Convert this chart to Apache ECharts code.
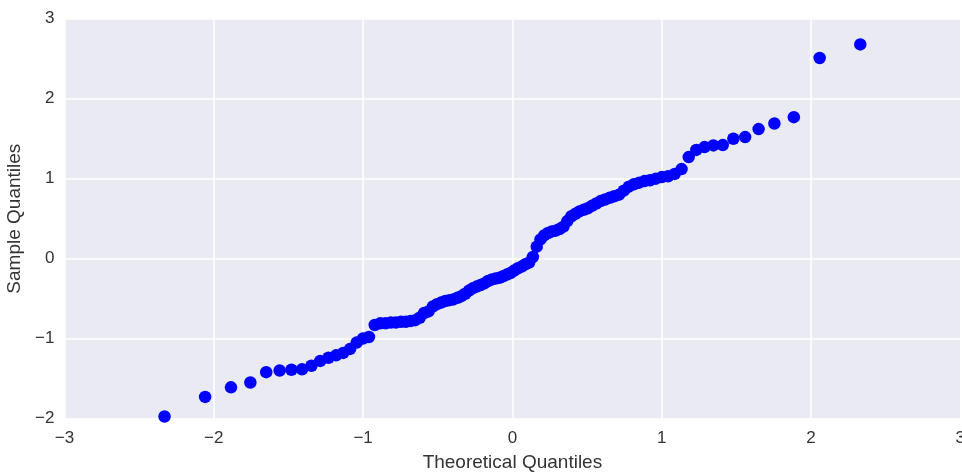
<!DOCTYPE html>
<html>
<head>
<meta charset="utf-8">
<script src="https://cdn.jsdelivr.net/npm/echarts@6/dist/echarts.min.js"></script>
<style>html,body{margin:0;padding:0;background:#fff;}#c{width:962px;height:473px;}</style>
</head>
<body>
<div id="c"></div>
<script>
// Theoretical quantiles (x)
const theoretical = [
 -2.330,-2.058,-1.885,-1.755,-1.649,-1.559,-1.480,-1.409,-1.346,-1.287,
 -1.232,-1.181,-1.133,-1.087,-1.043,-1.001,-0.961,-0.922,-0.885,-0.849,
 -0.814,-0.780,-0.746,-0.714,-0.682,-0.651,-0.621,-0.591,-0.562,-0.533,
 -0.505,-0.477,-0.449,-0.422,-0.395,-0.368,-0.342,-0.316,-0.290,-0.264,
 -0.239,-0.213,-0.188,-0.163,-0.137,-0.112,-0.087,-0.062,-0.037,-0.012,
 0.012,0.037,0.062,0.087,0.112,0.137,0.163,0.188,0.213,0.239,
 0.264,0.290,0.316,0.342,0.368,0.395,0.422,0.449,0.477,0.505,
 0.533,0.562,0.591,0.621,0.651,0.682,0.714,0.746,0.780,0.814,
 0.849,0.885,0.922,0.961,1.001,1.043,1.087,1.133,1.181,1.232,
 1.287,1.346,1.409,1.480,1.559,1.649,1.755,1.885,2.058,2.330
];
// Sample quantiles (y)
const sample = [
 -1.975,-1.73,-1.61,-1.55,-1.42,-1.40,-1.39,-1.385,-1.34,-1.28,
 -1.24,-1.21,-1.18,-1.13,-1.05,-1.00,-0.98,-0.83,-0.81,-0.81,
 -0.80,-0.80,-0.79,-0.79,-0.78,-0.77,-0.74,-0.68,-0.66,-0.60,
 -0.57,-0.55,-0.53,-0.52,-0.51,-0.49,-0.47,-0.44,-0.40,-0.37,
 -0.35,-0.33,-0.31,-0.28,-0.26,-0.25,-0.24,-0.22,-0.20,-0.18,
 -0.15,-0.12,-0.10,-0.07,-0.05,0.02,0.15,0.24,0.29,0.32,
 0.34,0.35,0.37,0.40,0.47,0.53,0.56,0.59,0.61,0.63,
 0.66,0.69,0.72,0.74,0.76,0.78,0.80,0.85,0.90,0.93,
 0.95,0.97,0.98,1.00,1.02,1.03,1.06,1.12,1.27,1.36,
 1.395,1.416,1.42,1.50,1.52,1.62,1.69,1.77,2.51,2.68
];
const xTicks = [-3, -2, -1, 0, 1, 2, 3];
const yTicks = [-2, -1, 0, 1, 2, 3];

const fmt = v => (v < 0 ? '\u2212' + Math.abs(v) : String(v));
const points = theoretical.map((x, i) => [x, sample[i]]);
const font = 'Liberation Sans, Arial, sans-serif';
const textColor = '#333333';

const chart = echarts.init(document.getElementById('c'));
chart.setOption({
  animation: false,
  grid: { left: 64.5, right: 1.7, top: 18.8, bottom: 54.5, show: true,
          containLabel: false, outerBoundsMode: 'none',
          backgroundColor: '#EAEAF2', borderWidth: 0 },
  xAxis: {
    type: 'value', min: xTicks[0], max: xTicks[xTicks.length - 1], interval: 1,
    name: 'Theoretical Quantiles', nameLocation: 'middle', nameGap: 35,
    nameTextStyle: { fontSize: 19, color: textColor, fontFamily: font },
    axisLine: { show: false }, axisTick: { show: false },
    axisLabel: { fontSize: 17, color: textColor, fontFamily: font, margin: 11, formatter: fmt },
    splitLine: { show: true, lineStyle: { color: '#ffffff', width: 1.5 } }
  },
  yAxis: {
    type: 'value', min: yTicks[0], max: yTicks[yTicks.length - 1], interval: 1,
    name: 'Sample Quantiles', nameLocation: 'middle', nameGap: 34, nameRotate: 90,
    nameTextStyle: { fontSize: 19, color: textColor, fontFamily: font },
    axisLine: { show: false }, axisTick: { show: false },
    axisLabel: { fontSize: 17, color: textColor, fontFamily: font, margin: 10, formatter: fmt },
    splitLine: { show: true, lineStyle: { color: '#ffffff', width: 1.5 } }
  },
  series: [{
    type: 'scatter', data: points, symbol: 'circle', symbolSize: 12.5,
    itemStyle: { color: '#0000FF', opacity: 1 }
  }]
});
</script>
</body>
</html>
